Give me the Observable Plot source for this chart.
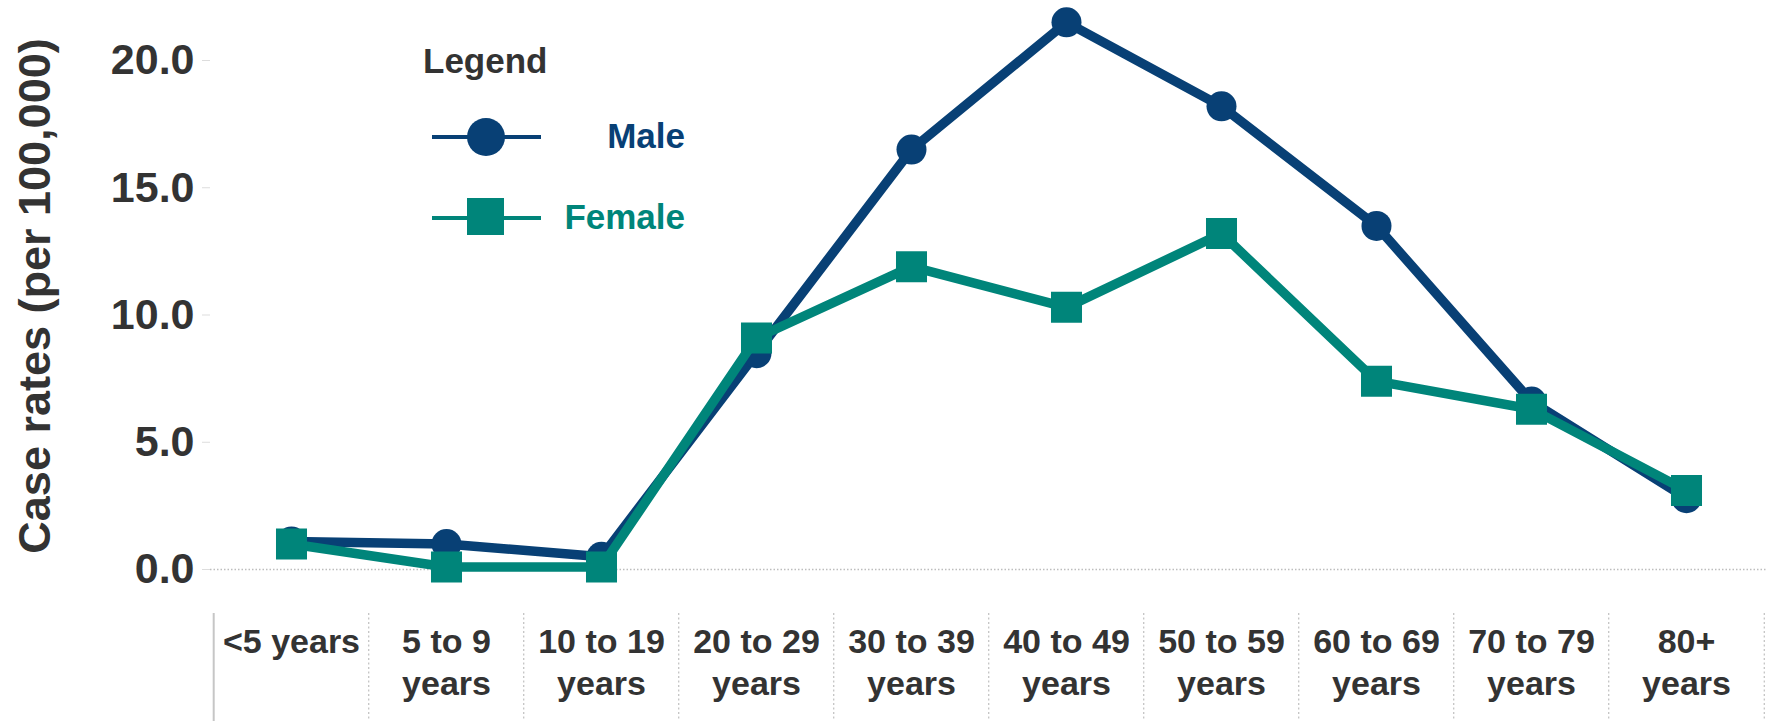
<!DOCTYPE html>
<html><head><meta charset="utf-8">
<script src="https://cdn.jsdelivr.net/npm/d3@7"></script>
<script src="https://cdn.jsdelivr.net/npm/@observablehq/plot@0.6"></script>
<style>
html,body{margin:0;padding:0;background:#fff;}
#chart{position:relative;width:1771px;height:721px;}
#chart svg{display:block}
#legend{position:absolute;left:0;top:0;pointer-events:none}
</style></head><body><div id="chart"></div>
<script>
const ageGroups = ["<5 years","5 to 9\nyears","10 to 19\nyears","20 to 29\nyears","30 to 39\nyears","40 to 49\nyears","50 to 59\nyears","60 to 69\nyears","70 to 79\nyears","80+\nyears"];
const maleRates = [1.1, 1.0, 0.5, 8.5, 16.5, 21.5, 18.2, 13.5, 6.6, 2.8];
const femaleRates = [1.0, 0.1, 0.1, 9.1, 11.9, 10.3, 13.2, 7.4, 6.3, 3.1];
const yTicks = [0, 5, 10, 15, 20];
const seriesNames = ["Male", "Female"];
const seriesColors = ["#084075", "#00857a"];
const yLabel = "Case rates (per 100,000)";
const legendTitle = "Legend";

const male = ageGroups.map((g, i) => ({age: g, sex: seriesNames[0], rate: maleRates[i]}));
const female = ageGroups.map((g, i) => ({age: g, sex: seriesNames[1], rate: femaleRates[i]}));

const W = 1771, H = 721, mL = 210, mR = 5, mT = 60, mB = 152;
const step = (W - mL - mR) / ageGroups.length;
const font = "'Liberation Sans', Arial, sans-serif";
const ink = "#333333";

const plot = Plot.plot({
  width: W, height: H,
  marginLeft: mL, marginRight: mR, marginTop: mT, marginBottom: mB,
  style: {fontFamily: font, background: "#fff", overflow: "visible"},
  x: {type: "point", domain: ageGroups, padding: 0.5},
  y: {domain: [0, 20]},
  marks: [
    Plot.ruleY([0], {stroke: "#bdbdbd", strokeWidth: 1.3, strokeDasharray: "1.5,2"}),
    Plot.ruleX(ageGroups.slice(1), {x: d => d, dx: -step / 2, insetTop: 553, insetBottom: -mB, stroke: "#c4c4c4", strokeWidth: 1.3, strokeDasharray: "2,2.5"}),
    Plot.ruleX(ageGroups.slice(-1), {x: d => d, dx: step / 2, insetTop: 553, insetBottom: -mB, stroke: "#c4c4c4", strokeWidth: 1.3, strokeDasharray: "2,2.5"}),
    Plot.ruleX(ageGroups.slice(0, 1), {x: d => d, dx: -step / 2, insetTop: 553, insetBottom: -mB, stroke: "#c6c6c6", strokeWidth: 2}),
    Plot.axisY({ticks: yTicks, tickSize: 8, tickPadding: 8, stroke: "#dddddd", fill: ink, fontSize: 43, fontWeight: "bold", tickFormat: d3.format(".1f"), label: null}),
    Plot.axisX({tickSize: 0, tickPadding: 54, fill: ink, fontSize: 34, fontWeight: "bold", lineHeight: 1.235, label: null}),
    Plot.text([yLabel], {text: d => d, frameAnchor: "left", rotate: -90, dx: -175, dy: -19, textAnchor: "middle", lineAnchor: "middle", fontSize: 45, fontWeight: "bold", fill: ink}),
    Plot.line(male, {x: "age", y: "rate", stroke: seriesColors[0], strokeWidth: 9.5}),
    Plot.dot(male, {x: "age", y: "rate", r: 15, fill: seriesColors[0], symbol: "circle"}),
    Plot.line(female, {x: "age", y: "rate", stroke: seriesColors[1], strokeWidth: 9.5}),
    Plot.dot(female, {x: "age", y: "rate", r: 17.5, fill: seriesColors[1], symbol: "square"})
  ]
});
const chart = document.getElementById("chart");
chart.appendChild(plot);

// Legend overlay (inside plot area, as in the original)
const lg = d3.select(chart).append("svg").attr("id", "legend")
  .attr("width", W).attr("height", H)
  .style("font-family", font);
lg.append("text").attr("x", 423).attr("y", 73).attr("fill", ink)
  .attr("font-size", 35).attr("font-weight", "bold").text(legendTitle);
const rowsY = [137, 218];
seriesNames.forEach((name, i) => {
  const y = rowsY[i], c = seriesColors[i];
  lg.append("line").attr("x1", 432).attr("x2", 541).attr("y1", y).attr("y2", y)
    .attr("stroke", c).attr("stroke-width", 4);
  if (i === 0) lg.append("circle").attr("cx", 486).attr("cy", y).attr("r", 19).attr("fill", c);
  else lg.append("rect").attr("x", 467).attr("y", y - 20).attr("width", 37).attr("height", 37).attr("fill", c);
  lg.append("text").attr("x", 685).attr("y", y + 11).attr("text-anchor", "end")
    .attr("fill", c).attr("font-size", 35).attr("font-weight", "bold").text(name);
});
</script></body></html>
